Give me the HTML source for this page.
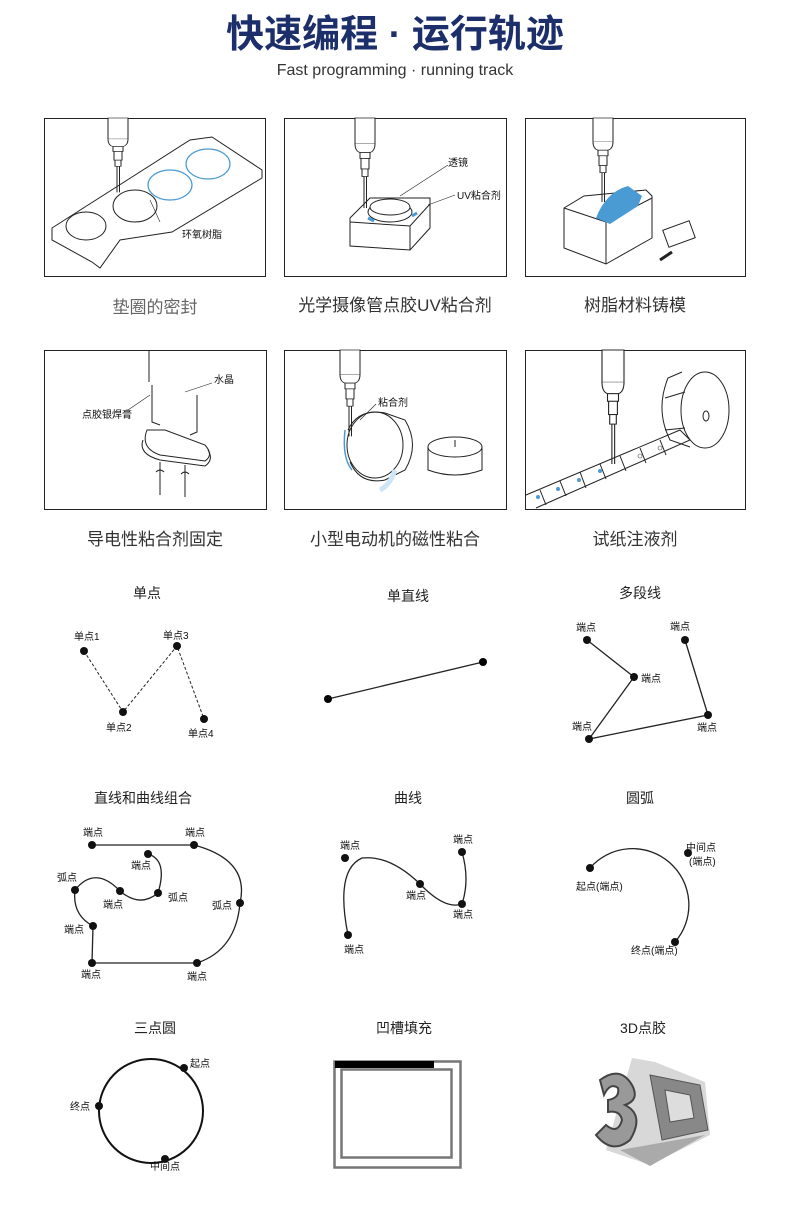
<!DOCTYPE html>
<html><head><meta charset="utf-8"><style>
html,body{margin:0;padding:0;background:#fff}
svg{display:block}
text{font-family:"Liberation Sans","Noto Sans CJK SC",sans-serif}
.c{font-size:17px;fill:#333;text-anchor:middle}
.t{font-size:14px;fill:#222;text-anchor:middle}
.s{font-size:10px;fill:#111}
.l{fill:none;stroke:#222;stroke-width:1}
</style></head><body>
<svg width="790" height="1216" viewBox="0 0 790 1216" xmlns="http://www.w3.org/2000/svg">
<defs>
<g id="syr">
<rect x="-10" y="0" width="20" height="34" fill="#fff" stroke="#222"/>
<path d="M-10,34 Q-10,44 -5,46 L5,46 Q10,44 10,34" fill="#fff" stroke="#222"/>
<rect x="-5" y="46" width="10" height="8" fill="#fff" stroke="#222"/>
<rect x="-4" y="54" width="8" height="14" fill="#fff" stroke="#222"/>
<rect x="-3" y="68" width="6" height="10" fill="#fff" stroke="#222"/>
<line x1="-1" y1="78" x2="-1" y2="120" stroke="#222"/><line x1="1.5" y1="78" x2="1.5" y2="120" stroke="#222"/>
</g>
</defs>
<text x="395" y="47" font-size="38" font-weight="bold" fill="#1c2f6b" text-anchor="middle">快速编程 · 运行轨迹</text>
<text x="395" y="75" font-size="16" fill="#333" text-anchor="middle">Fast programming · running track</text>

<rect x="44.5" y="118.5" width="221" height="158" fill="#fff" stroke="#222"/>
<rect x="284.5" y="118.5" width="222" height="158" fill="#fff" stroke="#222"/>
<rect x="525.5" y="118.5" width="220" height="158" fill="#fff" stroke="#222"/>
<path class="l" d="M52,228 L190,140 L212,137 L262,170 L262,178 L172,232 L120,240 L100,268 L92,262 L52,240 Z"/>
<ellipse cx="86" cy="226" rx="20" ry="14" class="l"/>
<ellipse cx="135" cy="206" rx="22" ry="16" class="l"/>
<ellipse cx="170" cy="185" rx="22" ry="15" fill="none" stroke="#4a9ad4" stroke-width="1.3"/>
<ellipse cx="208" cy="164" rx="22" ry="15" fill="none" stroke="#4a9ad4" stroke-width="1.3"/>
<line x1="150" y1="200" x2="160" y2="222" stroke="#222" stroke-width=".6"/>
<text x="182" y="238" class="s">环氧树脂</text>
<g transform="translate(118,118) scale(1,.62)"><use href="#syr"/></g>
<path class="l" d="M350,218 L370,198 L430,198 L430,228 L410,250 L350,246 Z M350,222 L410,226 L430,204 M410,226 L410,250"/>
<ellipse cx="390" cy="212" rx="22" ry="10" fill="#fff" stroke="#222"/>
<ellipse cx="390" cy="207" rx="20" ry="8" fill="#fff" stroke="#222"/>
<path d="M368,218 l6,3 M412,216 l5,-3" stroke="#4a9ad4" stroke-width="3"/>
<line x1="400" y1="196" x2="448" y2="165" stroke="#222" stroke-width=".6"/>
<line x1="428" y1="205" x2="455" y2="195" stroke="#222" stroke-width=".6"/>
<text x="448" y="166" class="s">透镜</text>
<text x="457" y="199" class="s">UV粘合剂</text>
<g transform="translate(365,118) scale(1,.75)"><use href="#syr"/></g>
<path class="l" d="M564,208 L584,196 L646,190 L652,196 L652,238 L606,264 L564,248 Z M564,208 L606,222 L606,264 M606,222 L652,198"/>
<path d="M596,218 Q606,192 628,186 L642,196 L638,206 L610,224 Z" fill="#4a9ad4"/>
<rect x="665" y="225" width="28" height="18" class="l" transform="rotate(-20 679 234)"/>
<line x1="660" y1="260" x2="672" y2="252" stroke="#222" stroke-width="3"/>
<g transform="translate(603,118) scale(1,.7)"><use href="#syr"/></g>
<text x="155" y="313" class="c" style="fill:#666">垫圈的密封</text>
<text x="395" y="311" class="c">光学摄像管点胶UV粘合剂</text>
<text x="635" y="311" class="c">树脂材料铸模</text>

<rect x="44.5" y="350.5" width="222" height="159" fill="#fff" stroke="#222"/>
<rect x="284.5" y="350.5" width="222" height="159" fill="#fff" stroke="#222"/>
<rect x="525.5" y="350.5" width="220" height="159" fill="#fff" stroke="#222"/>
<line x1="149" y1="350" x2="149" y2="382" stroke="#222"/>
<path class="l" d="M152,385 L152,422 L160,425 M197,395 L197,432 L190,435"/>
<path d="M147,430 Q140,448 160,455 L205,461 Q214,455 205,445 L165,430 Z" fill="#fff" stroke="#222"/>
<path class="l" d="M143,440 Q138,454 160,460 L205,466 Q214,460 208,450"/>
<path class="l" d="M160,462 L160,495 M185,465 L185,497 M156,472 q4,-4 8,0 M181,474 q4,-4 8,0"/>
<text x="214" y="383" class="s">水晶</text>
<line x1="185" y1="392" x2="212" y2="383" stroke="#222" stroke-width=".6"/>
<text x="82" y="418" class="s">点胶银焊膏</text>
<line x1="128" y1="410" x2="150" y2="395" stroke="#222" stroke-width=".6"/>
<ellipse cx="375" cy="445" rx="28" ry="33" class="l"/>
<path class="l" d="M348,430 Q358,408 385,413 L405,420 Q420,445 405,470 L385,480 Q360,485 350,462"/>
<path d="M345,430 Q342,458 352,470" fill="none" stroke="#4a9ad4" stroke-width="1.5"/>
<path d="M395,470 Q390,485 380,490" fill="none" stroke="#cfe4f4" stroke-width="5"/>
<path class="l" d="M428,447 L428,470 Q455,480 482,470 L482,447"/>
<ellipse cx="455" cy="447" rx="27" ry="10" fill="#fff" stroke="#222"/>
<line x1="455" y1="440" x2="455" y2="447" stroke="#222"/>
<text x="378" y="406" class="s">粘合剂</text>
<line x1="360" y1="420" x2="376" y2="404" stroke="#222" stroke-width=".6"/>
<g transform="translate(350,350) scale(1,.72)"><use href="#syr"/></g>
<path class="l" d="M526,495 L680,430 L690,440 L536,508 M540,490 L546,505 M560,481 L566,496 M580,472 L586,488 M600,464 L606,479 M620,456 L626,471 M640,448 L646,463 M660,440 L666,455"/>
<g fill="#4a9ad4"><circle cx="538" cy="497" r="2"/><circle cx="558" cy="489" r="2"/><circle cx="579" cy="480" r="2"/><circle cx="600" cy="471" r="2"/></g>
<g fill="none" stroke="#444" stroke-width=".6"><circle cx="640" cy="456" r="2"/><circle cx="660" cy="448" r="2"/></g>
<ellipse cx="705" cy="410" rx="24" ry="38" fill="#fff" stroke="#222"/>
<path class="l" d="M682,372 L668,378 Q655,410 670,440 L690,447 M685,392 L665,398 M685,428 L665,430"/>
<ellipse cx="706" cy="416" rx="3" ry="5" class="l"/>
<g transform="translate(613,350) scale(1.1,.95)"><use href="#syr"/></g>
<text x="155" y="545" class="c">导电性粘合剂固定</text>
<text x="395" y="545" class="c">小型电动机的磁性粘合</text>
<text x="635" y="545" class="c">试纸注液剂</text>

<text x="147" y="598" class="t">单点</text>
<text x="408" y="601" class="t">单直线</text>
<text x="640" y="598" class="t">多段线</text>
<path d="M84,651 L123,712 L177,646 L204,719" fill="none" stroke="#222" stroke-dasharray="3,2"/>
<g fill="#111"><circle cx="84" cy="651" r="4"/><circle cx="123" cy="712" r="4"/><circle cx="177" cy="646" r="4"/><circle cx="204" cy="719" r="4"/></g>
<text x="74" y="640" class="s">单点1</text><text x="163" y="639" class="s">单点3</text><text x="106" y="731" class="s">单点2</text><text x="188" y="737" class="s">单点4</text>
<line x1="328" y1="699" x2="483" y2="662" stroke="#222" stroke-width="1.3"/>
<circle cx="328" cy="699" r="4"/><circle cx="483" cy="662" r="4"/>
<path d="M587,640 L634,677 L589,739 L708,715 L685,640" fill="none" stroke="#222" stroke-width="1.3"/>
<g fill="#111"><circle cx="587" cy="640" r="4"/><circle cx="634" cy="677" r="4"/><circle cx="589" cy="739" r="4"/><circle cx="708" cy="715" r="4"/><circle cx="685" cy="640" r="4"/></g>
<text x="576" y="631" class="s">端点</text><text x="670" y="630" class="s">端点</text><text x="641" y="682" class="s">端点</text><text x="572" y="730" class="s">端点</text><text x="697" y="731" class="s">端点</text>

<text x="143" y="803" class="t">直线和曲线组合</text>
<text x="408" y="803" class="t">曲线</text>
<text x="640" y="803" class="t">圆弧</text>
<path d="M92,845 L194,845 Q250,860 240,903 Q236,950 197,963 L92,963 L93,926 Q72,915 75,890 Q95,865 120,891 Q140,908 158,893 Q168,860 148,854" fill="none" stroke="#222" stroke-width="1.3"/>
<g fill="#111"><circle cx="92" cy="845" r="4"/><circle cx="194" cy="845" r="4"/><circle cx="148" cy="854" r="4"/><circle cx="75" cy="890" r="4"/><circle cx="120" cy="891" r="4"/><circle cx="158" cy="893" r="4"/><circle cx="93" cy="926" r="4"/><circle cx="92" cy="963" r="4"/><circle cx="197" cy="963" r="4"/><circle cx="240" cy="903" r="4"/></g>
<text x="83" y="836" class="s">端点</text><text x="185" y="836" class="s">端点</text><text x="131" y="869" class="s">端点</text><text x="57" y="881" class="s">弧点</text><text x="103" y="908" class="s">端点</text><text x="168" y="901" class="s">弧点</text><text x="212" y="909" class="s">弧点</text><text x="64" y="933" class="s">端点</text><text x="81" y="978" class="s">端点</text><text x="187" y="980" class="s">端点</text>
<path d="M348,935 Q335,870 362,858 Q390,855 420,884 Q445,910 462,904 Q470,880 462,852" fill="none" stroke="#222" stroke-width="1.3"/>
<g fill="#111"><circle cx="345" cy="858" r="4"/><circle cx="420" cy="884" r="4"/><circle cx="462" cy="852" r="4"/><circle cx="462" cy="904" r="4"/><circle cx="348" cy="935" r="4"/></g>
<text x="340" y="849" class="s">端点</text><text x="453" y="843" class="s">端点</text><text x="406" y="899" class="s">端点</text><text x="453" y="918" class="s">端点</text><text x="344" y="953" class="s">端点</text>
<path d="M590,868 A54,54 0 1 1 675,942" fill="none" stroke="#222" stroke-width="1.3"/>
<g fill="#111"><circle cx="590" cy="868" r="4"/><circle cx="688" cy="853" r="4"/><circle cx="675" cy="942" r="4"/></g>
<text x="686" y="851" class="s">中间点</text><text x="689" y="865" class="s">(端点)</text><text x="576" y="890" class="s">起点(端点)</text><text x="631" y="954" class="s">终点(端点)</text>

<text x="155" y="1033" class="t">三点圆</text>
<text x="404" y="1033" class="t">凹槽填充</text>
<text x="643" y="1033" class="t">3D点胶</text>
<circle cx="151" cy="1111" r="52" fill="none" stroke="#111" stroke-width="2"/>
<g fill="#111"><circle cx="184" cy="1068" r="4"/><circle cx="99" cy="1106" r="4"/><circle cx="165" cy="1159" r="4"/></g>
<text x="190" y="1067" class="s">起点</text><text x="70" y="1110" class="s">终点</text><text x="150" y="1170" class="s">中间点</text>
<rect x="334.5" y="1061.5" width="126" height="106" fill="none" stroke="#777" stroke-width="2.5"/>
<rect x="341.5" y="1069.5" width="110" height="88" fill="none" stroke="#777" stroke-width="2.5"/>
<rect x="335" y="1061" width="99" height="7" fill="#000"/>
<polygon points="632,1058 655,1062 705,1082 710,1135 650,1165 606,1150" fill="#d8d8d8"/>
<polygon points="650,1075 700,1085 708,1130 662,1140" fill="#888" stroke="#555"/>
<polygon points="665,1090 690,1095 694,1118 670,1122" fill="#ddd" stroke="#555"/>
<path d="M600,1080 Q620,1065 632,1085 Q640,1100 625,1105 Q645,1115 630,1140 Q612,1155 596,1135 L606,1125 Q618,1135 622,1120 Q620,1110 608,1112 L608,1100 Q620,1098 618,1088 Q610,1082 604,1095 Z" fill="#999" stroke="#444" stroke-width="2"/>
<polygon points="620,1150 705,1135 650,1166" fill="#aaa"/>
</svg>
</body></html>
